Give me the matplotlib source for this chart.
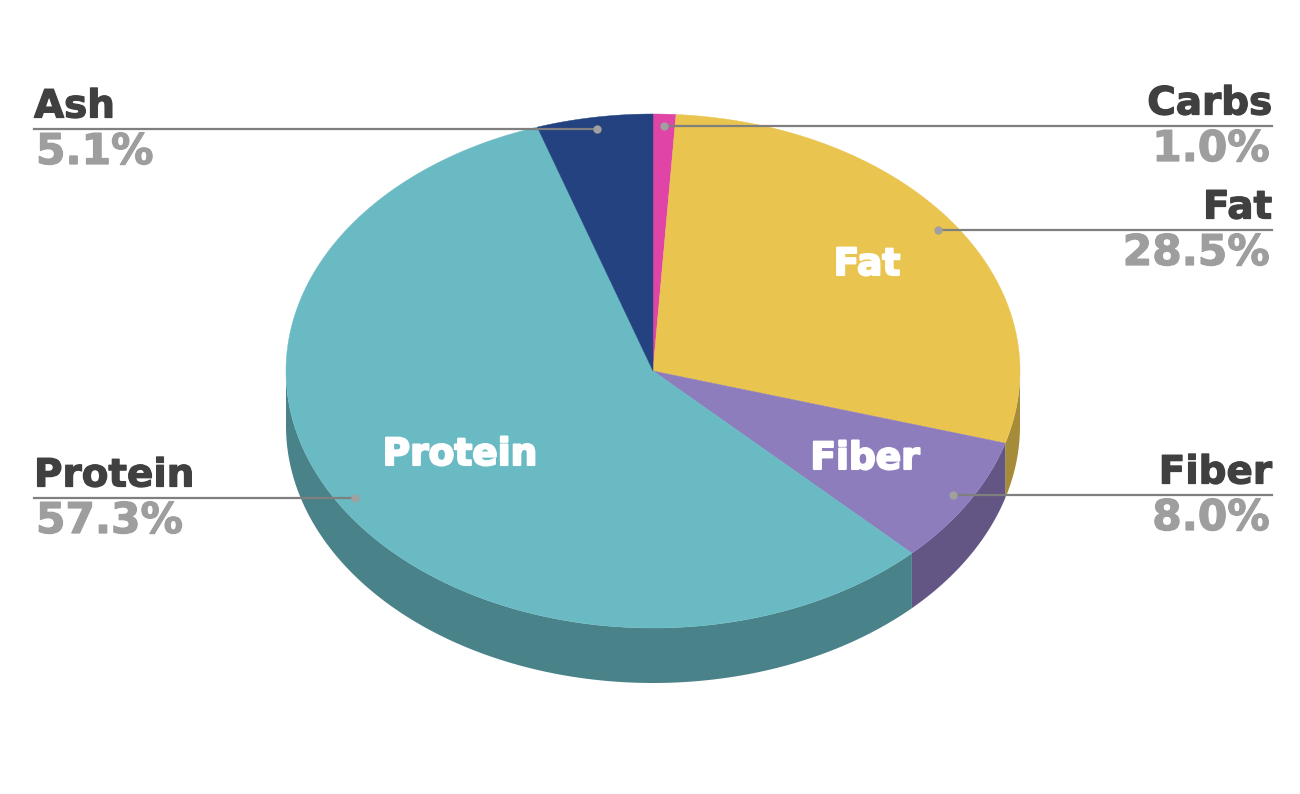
import numpy as np
import matplotlib.pyplot as plt
import matplotlib.patheffects as pe

labels = ['Carbs', 'Fat', 'Fiber', 'Protein', 'Ash']
values = [1.0, 28.5, 8.0, 57.3, 5.1]
colors = ['#df44a6', '#e9c44f', '#8d7dbd', '#69bac3', '#244280']
side_colors = ['#9c2e74', '#a68c38', '#635685', '#4a8289', '#1a2e5a']

# centre and radii of the squashed pie, in pixels
cx, cy = 653, 371
rx, ry, depth = 367, 257, 55

# outside labels: text x, percent x, text anchor, line y, dot x
label_x = [1272, 1272, 1272, 34, 34]
percent_x = [1270, 1270, 1270, 36, 36]
label_ha = ['right', 'right', 'right', 'left', 'left']
line_y = [126, 230, 495, 498, 129]
dot_x = [664, 938, 953, 355, 597]

# white labels sitting on the slices
inner_labels = ['Fat', 'Fiber', 'Protein']
inner_x = [867, 865, 460]
inner_y = [275, 469, 465]

plt.rcParams['font.family'] = ['DejaVu Sans']

fig = plt.figure(figsize=(13, 7.94), dpi=100)
ax = fig.add_axes([0, 0, 1, 1])
ax.set_xlim(0, 1300)
ax.set_ylim(794, 0)
ax.axis('off')


def rim(a):
    # a is clockwise from 12 o'clock, in degrees
    t = np.radians(a)
    return cx + rx * np.sin(t), cy - ry * np.cos(t)


def heavy(color, width):
    # the installed bold is lighter than the original, thicken it a bit
    return [pe.withStroke(linewidth=width, foreground=color)]


edges = np.concatenate([[0], np.cumsum(values)]) / sum(values) * 360

# side wall first, only the front part of the pie shows it
for i in range(len(values)):
    a0 = max(edges[i], 90)
    a1 = min(edges[i + 1], 270)
    if a1 <= a0:
        continue
    t = np.linspace(a0, a1, 200)
    x, y = rim(t)
    ax.fill(np.r_[x, x[::-1]], np.r_[y, y[::-1] + depth], color=side_colors[i], lw=0)

# top face
for i in range(len(values)):
    t = np.linspace(edges[i], edges[i + 1], 300)
    x, y = rim(t)
    ax.fill(np.r_[cx, x], np.r_[cy, y], color=colors[i], lw=0.3, ec=colors[i])

for i in range(len(labels)):
    ax.plot([dot_x[i], label_x[i]], [line_y[i], line_y[i]], color='#7f7f7f', lw=1.6, zorder=3)
    ax.plot(dot_x[i], line_y[i], 'o', color='#a0a0a0', ms=6, mec='none', zorder=4)
    ax.text(label_x[i], line_y[i] - 11.5, labels[i], ha=label_ha[i], va='baseline',
            fontsize=28, fontweight='bold', color='#404040',
            path_effects=heavy('#404040', 0.9))
    ax.text(percent_x[i], line_y[i] + 35, '%.1f%%' % values[i], ha=label_ha[i], va='baseline',
            fontsize=30.5, fontweight='bold', color='#9e9e9e',
            path_effects=heavy('#9e9e9e', 0.9))

for name, x, y in zip(inner_labels, inner_x, inner_y):
    ax.text(x, y, name, ha='center', va='baseline', fontsize=27, fontweight='bold',
            color='white', path_effects=heavy('white', 1.5))

fig.savefig('out.png', dpi=100)
